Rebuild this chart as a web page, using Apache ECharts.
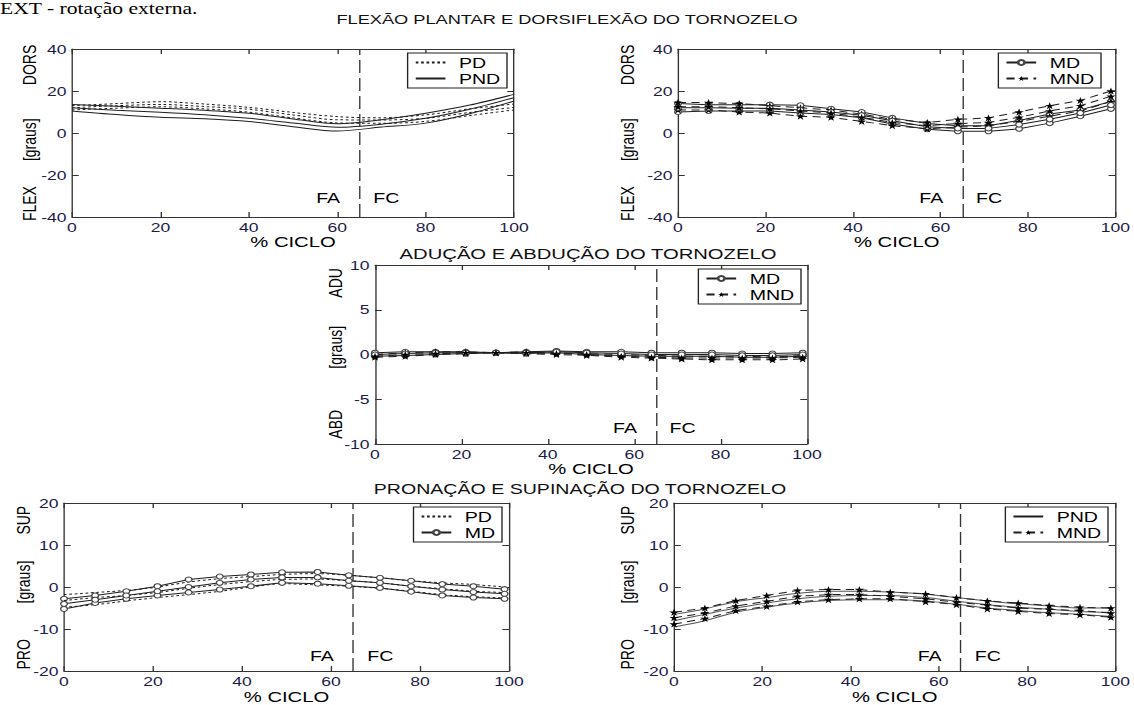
<!DOCTYPE html>
<html>
<head>
<meta charset="utf-8">
<script src="https://cdn.jsdelivr.net/npm/echarts/dist/echarts.min.js"></script>
<style>
  html, body { margin: 0; padding: 0; background: #fff; overflow: hidden; }
  /* the figure is drawn narrower and then widened horizontally */
  #chart { width: 840px; height: 705px; transform: scaleX(1.35); transform-origin: 0 0; }
</style>
</head>
<body>
<div id="chart"></div>
<script>
// ---- data ---------------------------------------------------------------
// % of gait cycle
const cicloP1 = [0, 10, 20, 30, 40, 50, 60, 70, 80, 90, 100];
const cicloMarc = [0, 7, 14, 21, 28, 35, 42, 49, 57, 64, 71, 78, 85, 92, 99];

// Flexão plantar / dorsiflexão (mean, +1 SD, -1 SD)
const flexPD     = [12, 13, 13.6, 12.6, 11.3, 8.6, 6.3, 6.2, 7, 9.8, 12.2];
const flexPDsup  = [13, 14, 14.9, 13.8, 12.2, 9.8, 7.8, 7.2, 8.6, 11.5, 13.8];
const flexPDinf  = [11, 11.8, 12.5, 11.5, 9.9, 7.2, 4.8, 4.6, 5.5, 8.3, 11];
const flexPND    = [12, 10.8, 9.9, 8.7, 7, 4.8, 2.7, 4.2, 7, 11.3, 16.8];
const flexPNDsup = [13.6, 12.7, 11.8, 10.8, 9.4, 6.7, 4.4, 6.3, 9.4, 13.3, 18.4];
const flexPNDinf = [10.5, 8.8, 7.5, 6.8, 5.5, 3, 0.9, 2.8, 4.7, 9.2, 15.2];

const flexMD     = [12, 12, 11.8, 11.8, 11, 10, 8.5, 5.8, 3, 2.2, 2.2, 4, 6.5, 9.5, 13.3];
const flexMDsup  = [14, 13.5, 13.5, 13.5, 13.2, 11.5, 10, 7.2, 4.5, 3.5, 3.5, 6, 9, 11, 15];
const flexMDinf  = [10, 10.5, 10.5, 10.5, 9.5, 8.8, 7.3, 4.3, 1.8, 0.8, 0.8, 2, 4.7, 8, 11.5];
const flexMND    = [12.5, 12.5, 12, 11.5, 10.5, 9.5, 7.5, 5, 3.5, 4.5, 5, 7.5, 10.5, 13, 17.5];
const flexMNDsup = [14.5, 14.5, 14, 13, 12, 11, 9, 6.5, 5, 6.5, 7.2, 10, 13, 15.5, 20];
const flexMNDinf = [11, 11, 10, 9.5, 8, 7.5, 5.5, 3.5, 2, 2.8, 3.5, 5.5, 8, 10.5, 15];

// Adução / abdução
const aduMD     = [0, 0.1, 0.2, 0.2, 0.2, 0.2, 0.3, 0.2, 0.1, 0, 0, 0, -0.1, -0.1, 0];
const aduMDsup  = [0.2, 0.3, 0.3, 0.3, 0.2, 0.3, 0.4, 0.3, 0.3, 0.2, 0.2, 0.2, 0.1, 0.1, 0.2];
const aduMDinf  = [-0.2, -0.1, 0, 0.1, 0.2, 0.1, 0.2, 0, -0.1, -0.2, -0.2, -0.2, -0.3, -0.3, -0.2];
const aduMND    = [-0.2, 0, 0.1, 0.2, 0.2, 0.2, 0.1, 0, -0.2, -0.3, -0.4, -0.4, -0.4, -0.4, -0.3];
const aduMNDsup = [0, 0.2, 0.3, 0.3, 0.2, 0.3, 0.2, 0.1, 0, -0.1, -0.2, -0.2, -0.2, -0.3, -0.1];
const aduMNDinf = [-0.3, -0.2, 0, 0.1, 0.2, 0.1, 0, -0.1, -0.3, -0.4, -0.5, -0.6, -0.6, -0.6, -0.5];

// Pronação / supinação
const supPD     = [-3.2, -2.5, -2, -1.3, -0.3, 0.6, 1.3, 1.8, 1.9, 1.5, 1, 0.2, -0.4, -1, -1.3];
const supPDsup  = [-1.8, -1.3, -0.8, 0, 1.2, 2, 2.5, 3, 3.2, 2.8, 2.2, 1.5, 1, 0.6, 0];
const supPDinf  = [-4.8, -4.2, -3.3, -2.5, -1.8, -1, 0, 0.8, 0.5, 0.2, -0.3, -1, -1.8, -2.3, -2.6];
const supMD     = [-4, -3, -2, -1, 0, 1, 1.8, 2.3, 2.3, 1.5, 1, 0.2, -0.6, -1.2, -1.6];
const supMDsup  = [-2.8, -2, -1, 0.2, 1.8, 2.5, 3, 3.5, 3.6, 2.8, 2.2, 1.5, 0.7, 0.2, -0.5];
const supMDinf  = [-5.2, -3.8, -2.8, -2, -1.3, -0.6, 0.2, 1, 0.8, 0.3, -0.2, -1.1, -2, -2.5, -2.8];

const supPND     = [-8, -6.5, -5, -3.8, -2.8, -2.2, -2, -2, -2.5, -3.4, -4.2, -4.8, -5.3, -5.8, -6];
const supPNDsup  = [-6.5, -5.2, -3.5, -2.5, -1.5, -1, -1, -1.2, -1.7, -2.5, -3.3, -4, -4.5, -5, -5];
const supPNDinf  = [-9.5, -8, -6, -4.8, -3.8, -3.2, -3, -3, -3.3, -4.1, -5, -5.6, -6.1, -6.5, -7];
const supMND     = [-7.3, -6.2, -4.5, -3.4, -2.2, -1.8, -1.8, -2.2, -2.8, -3.6, -4.3, -5, -5.3, -5.6, -6.2];
const supMNDsup  = [-6, -5, -3.2, -2, -0.8, -0.6, -0.6, -1.2, -1.6, -2.5, -3.3, -3.8, -4.4, -4.8, -5];
const supMNDinf  = [-8.8, -7.5, -5.6, -4.6, -3.5, -3, -2.8, -2.8, -3.5, -4.2, -5.2, -5.8, -6.3, -6.6, -7.2];

// swing / stance boundary (% of cycle)
const fimApoio = 65;

// ---- layout -------------------------------------------------------------
const SX = 1.35;            // horizontal widening of the figure
const W = 1134;
const FONT = 'Liberation Sans, Arial, Helvetica, sans-serif';
const TICK_COLOR = '#1c1c48';
const LINE = '#1e1e1e';
const STAR = 'path://M50,0 L61,35 L98,35 L68,57 L79,91 L50,70 L21,91 L32,57 L2,35 L39,35 Z';

const styles = {
  PD:  { lineStyle: { type: [2, 2], width: 1, color: LINE }, symbol: 'none', smooth: 0.3,
         itemStyle: { color: LINE } },
  PND: { lineStyle: { type: 'solid', width: 1, color: LINE }, symbol: 'none', smooth: 0.3,
         itemStyle: { color: LINE } },
  MD:  { lineStyle: { type: 'solid', width: 1, color: LINE }, symbol: 'circle', symbolSize: 5,
         itemStyle: { color: '#fff', borderColor: '#444', borderWidth: 1 } },
  MND: { lineStyle: { type: [6, 4], width: 1, color: LINE }, symbol: STAR, symbolSize: 7,
         itemStyle: { color: '#000' } }
};

const panels = [
  { frame: { l: 72, r: 514, t: 49, b: 217 }, y: [-40, 40, 20], lab: ['DORS', '[graus]', 'FLEX'],
    labPos: [0.095, 0.54, 0.92], labX: 30, faY: -31, legend: ['PD', 'PND'], legRight: 7,
    groups: [['PD', cicloP1, flexPD, flexPDsup, flexPDinf], ['PND', cicloP1, flexPND, flexPNDsup, flexPNDinf]] },
  { frame: { l: 678, r: 1118, t: 49, b: 217 }, y: [-40, 40, 20], lab: ['DORS', '[graus]', 'FLEX'],
    labPos: [0.095, 0.54, 0.92], labX: 628, faY: -31, legend: ['MD', 'MND'], legRight: 17,
    groups: [['MD', cicloMarc, flexMD, flexMDsup, flexMDinf], ['MND', cicloMarc, flexMND, flexMNDsup, flexMNDinf]] },
  { frame: { l: 375, r: 807, t: 265, b: 444 }, y: [-10, 10, 5], lab: ['ADU', '[graus]', 'ABD'],
    labPos: [0.1, 0.46, 0.89], labX: 336, faY: -8.2, legend: ['MD', 'MND'], legRight: 6,
    groups: [['MD', cicloMarc, aduMD, aduMDsup, aduMDinf], ['MND', cicloMarc, aduMND, aduMNDsup, aduMNDinf]] },
  { frame: { l: 64, r: 509, t: 503, b: 675 }, y: [-20, 20, 10], lab: ['SUP', '[graus]', 'PRO'],
    labPos: [0.1, 0.46, 0.88], labX: 24, faY: -16.5, legend: ['PD', 'MD'], legRight: 7,
    groups: [['PD', cicloMarc, supPD, supPDsup, supPDinf], ['MD', cicloMarc, supMD, supMDsup, supMDinf]] },
  { frame: { l: 674, r: 1118, t: 503, b: 675 }, y: [-20, 20, 10], lab: ['SUP', '[graus]', 'PRO'],
    labPos: [0.1, 0.46, 0.88], labX: 628, faY: -16.5, legend: ['PND', 'MND'], legRight: 10,
    groups: [['PND', cicloMarc, supPND, supPNDsup, supPNDinf], ['MND', cicloMarc, supMND, supMNDsup, supMNDinf]] }
];

const titles = [
  { text: 'FLEXÃO PLANTAR E DORSIFLEXÃO DO TORNOZELO', x: 567, y: 19, size: 13.5 },
  { text: 'ADUÇÃO E ABDUÇÃO DO TORNOZELO', x: 588, y: 254, size: 15 },
  { text: 'PRONAÇÃO E SUPINAÇÃO DO TORNOZELO', x: 580, y: 489, size: 14.5 }
];

// ---- option -------------------------------------------------------------
const grid = [], xAxis = [], yAxis = [], series = [], legend = [], graphic = [];

const frameAxis = {
  axisLine: { show: true, onZero: false, lineStyle: { color: '#333', width: 1 } },
  axisTick: { show: true, inside: true, length: 5, lineStyle: { color: '#333', width: 1 } },
  splitLine: { show: false }
};

panels.forEach((p, i) => {
  const f = p.frame;
  grid.push({ left: f.l / SX, top: f.t, width: (f.r - f.l) / SX, height: f.b - f.t });

  xAxis.push(Object.assign({
    gridIndex: i, type: 'value', min: 0, max: 100, interval: 20, position: 'bottom',
    name: '% CICLO', nameLocation: 'middle', nameGap: 15,
    nameTextStyle: { fontFamily: FONT, fontSize: 15, color: '#000' },
    axisLabel: { margin: 4, fontFamily: FONT, fontSize: 13, color: TICK_COLOR }
  }, frameAxis));
  xAxis.push(Object.assign({
    gridIndex: i, type: 'value', min: 0, max: 100, interval: 20, position: 'top',
    axisLabel: { show: false }
  }, frameAxis));
  yAxis.push(Object.assign({
    gridIndex: i, type: 'value', min: p.y[0], max: p.y[1], interval: p.y[2], position: 'left',
    axisLabel: { margin: 4, fontFamily: FONT, fontSize: 13, color: TICK_COLOR }
  }, frameAxis));
  yAxis.push(Object.assign({
    gridIndex: i, type: 'value', min: p.y[0], max: p.y[1], interval: p.y[2], position: 'right',
    axisLabel: { show: false }
  }, frameAxis));

  p.groups.forEach((g, k) => {
    const [name, xs, mean, sup, inf] = g;
    const st = styles[name];
    const lineColor = (i === 4 && name === 'PND') ? '#555' : LINE;
    [[name, mean], [name + ' +DP', sup], [name + ' -DP', inf]].forEach(([nm, arr], j) => {
      const s = {
        type: 'line', name: nm, xAxisIndex: 2 * i, yAxisIndex: 2 * i,
        data: xs.map((x, n) => [x, arr[n]]),
        symbol: st.symbol, symbolSize: st.symbolSize, smooth: st.smooth || false,
        showSymbol: st.symbol !== 'none',
        lineStyle: Object.assign({}, st.lineStyle, { color: lineColor }),
        itemStyle: st.itemStyle, silent: true, z: 3 + (j === 0 ? 1 : 0)
      };
      if (k === 0 && j === 0) {
        s.markLine = {
          silent: true, symbol: ['none', 'none'], label: { show: false },
          lineStyle: { type: [13, 5], color: '#333', width: 1 },
          data: [{ xAxis: fimApoio }]
        };
        s.markPoint = {
          silent: true, symbol: 'rect', symbolSize: 1, itemStyle: { color: 'rgba(0,0,0,0)' },
          label: { show: true, formatter: '{b}', fontFamily: FONT, fontSize: 14.5, color: '#000', distance: 0 },
          data: [
            { name: 'FA', coord: [fimApoio - 4.2, p.faY], label: { position: 'left' } },
            { name: 'FC', coord: [fimApoio + 3.0, p.faY], label: { position: 'right' } }
          ]
        };
      }
      series.push(s);
    });
  });

  legend.push({
    orient: 'vertical', selectedMode: false,
    right: (W - f.r + p.legRight) / SX, top: f.t + 4,
    data: p.legend.map(n => (styles[n].symbol === 'none'
      ? { name: n, itemStyle: { opacity: 0 } }
      : { name: n })),
    backgroundColor: '#fff', borderColor: '#222', borderWidth: 1, borderRadius: 0,
    padding: [2, 5, 2, 5], itemGap: 1, itemWidth: 22, itemHeight: 6,
    textStyle: { fontFamily: FONT, fontSize: 14.5, lineHeight: 13, color: '#000', padding: [0, 0, 0, 5] }
  });

  // rotated y-axis captions
  const h = f.b - f.t;
  p.lab.forEach((txt, n) => {
    graphic.push({
      type: 'text', x: p.labX / SX, y: f.t + p.labPos[n] * h, rotation: Math.PI / 2, silent: true,
      style: { text: txt, font: '14px ' + FONT, fill: '#000',
               align: 'center', verticalAlign: 'middle', textAlign: 'center', textVerticalAlign: 'middle' }
    });
  });
});

titles.forEach(t => graphic.push({
  type: 'text', x: t.x / SX, y: t.y, silent: true,
  style: { text: t.text, font: t.size + 'px ' + FONT, fill: '#111',
           align: 'center', verticalAlign: 'middle', textAlign: 'center', textVerticalAlign: 'middle' }
}));

// caption line above the figure
graphic.push({
  type: 'text', x: 0, y: 1, silent: true,
  style: { text: 'EXT - rotação externa.', font: '16px Liberation Serif, Times New Roman, serif', fill: '#000',
           align: 'left', verticalAlign: 'top', textAlign: 'left', textVerticalAlign: 'top' }
});

const chart = echarts.init(document.getElementById('chart'), null, { renderer: 'svg' });
chart.setOption({
  animation: false,
  backgroundColor: '#fff',
  grid, xAxis, yAxis, series, legend, graphic
});
</script>
</body>
</html>
